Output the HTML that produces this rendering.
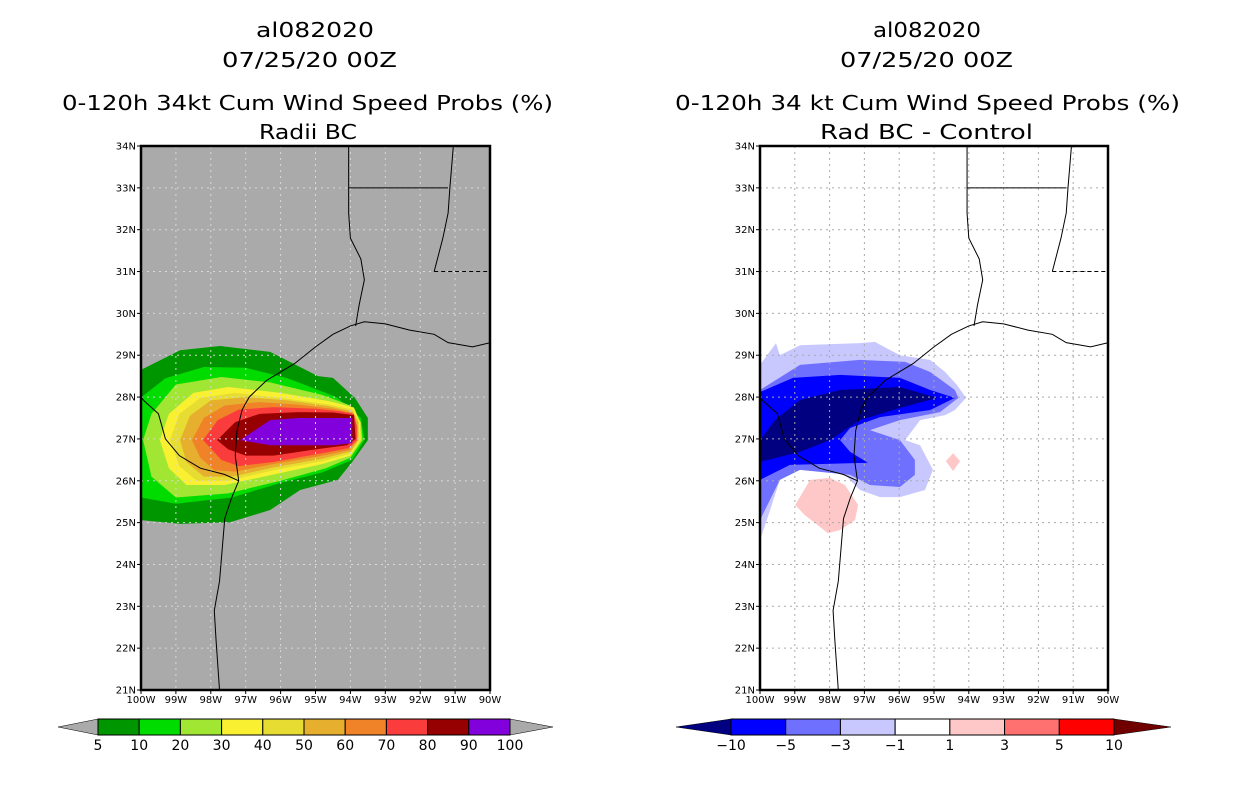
<!DOCTYPE html>
<html><head><meta charset="utf-8"><style>
body{margin:0;background:#fff;width:1236px;height:800px;overflow:hidden}
svg{display:block}
text{font-family:"DejaVu Sans","Liberation Sans",sans-serif}
</style></head><body>
<svg id="svg" width="1236" height="800">
<g font-size="20" fill="#000">
<text x="256" y="37" textLength="118" lengthAdjust="spacingAndGlyphs">al082020</text>
<text x="222" y="67" textLength="175" lengthAdjust="spacingAndGlyphs">07/25/20 00Z</text>
<text x="62" y="110" textLength="491" lengthAdjust="spacingAndGlyphs">0-120h 34kt Cum Wind Speed Probs (%)</text>
<text x="259" y="139" textLength="98" lengthAdjust="spacingAndGlyphs">Radii BC</text>
</g>
<g font-size="20" fill="#000">
<text x="873" y="37" textLength="108" lengthAdjust="spacingAndGlyphs">al082020</text>
<text x="840" y="67" textLength="173" lengthAdjust="spacingAndGlyphs">07/25/20 00Z</text>
<text x="675" y="110" textLength="505" lengthAdjust="spacingAndGlyphs">0-120h 34 kt Cum Wind Speed Probs (%)</text>
<text x="820" y="139" textLength="213" lengthAdjust="spacingAndGlyphs">Rad BC - Control</text>
</g>
<g id="left"></g>
<g id="right"></g>
<g id="cbl"></g>
<g id="cbr"></g>
</svg>
<script>
const lonTicks=[100,99,98,97,96,95,94,93,92,91,90];
const latTicks=[21,22,23,24,25,26,27,28,29,30,31,32,33,34];
// left probability contour levels (lonW, lat)
const leftLevels=['5','10','20','30','40','50','60','70','80','90'];
const leftColors=['#009600','#00dc00','#a0e632','#faf032','#e6dc32','#e6af2d','#f08228','#fa3c3c','#960000','#8200dc'];
const leftPolys=[
[[100,28.65],[98.88,29.12],[97.74,29.22],[96.3,29.08],[94.93,28.5],[94.5,28.46],[93.87,27.98],[93.5,27.5],[93.5,26.97],[93.95,26.45],[94.36,26.02],[95.44,25.78],[96.3,25.3],[97.45,25.01],[98.88,24.97],[100,25.06]],
[[100,27.99],[99.3,28.45],[98.2,28.72],[97.0,28.7],[95.8,28.45],[94.4,28.0],[93.7,27.5],[93.6,26.97],[93.95,26.5],[94.8,26.2],[96.0,25.95],[97.4,25.6],[99,25.45],[100,25.6]],
[[99.94,26.97],[99.7,27.6],[99.0,28.3],[97.7,28.48],[96.3,28.35],[94.8,28.05],[94.0,27.8],[93.7,27.4],[93.65,26.97],[94.0,26.55],[94.7,26.3],[96.0,26.0],[97.5,25.7],[99.0,25.6],[99.7,26.1]],
[[99.46,26.97],[99.2,27.6],[98.5,28.1],[97.5,28.24],[96.0,28.1],[94.6,27.9],[93.9,27.75],[93.72,27.4],[93.7,26.97],[94.0,26.6],[94.8,26.4],[96.2,26.15],[97.6,25.9],[98.7,25.9],[99.2,26.3]],
[[99.17,26.97],[98.9,27.6],[98.3,27.98],[97.3,28.1],[96.0,27.98],[94.6,27.82],[93.93,27.7],[93.75,27.4],[93.74,26.97],[94.0,26.65],[94.8,26.47],[96.2,26.25],[97.5,26.0],[98.4,26.0],[98.9,26.35]],
[[98.88,26.97],[98.6,27.55],[98.0,27.92],[97.0,28.0],[95.8,27.92],[94.6,27.78],[93.95,27.66],[93.78,27.4],[93.77,26.97],[94.0,26.7],[94.8,26.53],[96.2,26.32],[97.4,26.1],[98.2,26.1],[98.7,26.45]],
[[98.54,26.97],[98.2,27.5],[97.6,27.8],[96.6,27.88],[95.5,27.82],[94.5,27.72],[93.95,27.62],[93.8,27.3],[93.8,26.97],[94.05,26.73],[94.8,26.6],[96.2,26.4],[97.3,26.22],[97.9,26.25],[98.3,26.55]],
[[98.22,26.97],[97.8,27.45],[97.2,27.7],[96.2,27.76],[95.0,27.72],[94.3,27.66],[93.9,27.6],[93.82,27.3],[93.82,26.97],[94.05,26.78],[94.8,26.66],[96.2,26.45],[97.2,26.35],[97.7,26.5]],
[[97.82,26.97],[97.3,27.4],[96.6,27.6],[95.5,27.64],[94.5,27.63],[93.9,27.57],[93.85,27.0],[94.1,26.85],[95.0,26.75],[96.2,26.6],[97.0,26.6],[97.5,26.75]],
[[97.16,26.97],[96.3,27.45],[95.5,27.5],[93.95,27.5],[93.95,26.9],[94.5,26.85],[96.3,26.85]]];
// right difference contour levels
const rightLevels=['-1','-3','-5','-10','1','1b'];
const rightColors=['#c8c8ff','#7070ff','#0000ff','#000080','#ffc8c8','#ffc8c8'];
const rightPolys=[
[[100,28.77],[99.54,29.29],[99.43,29.0],[98.85,29.24],[97.13,29.29],[96.7,29.32],[95.98,29.0],[95.11,28.89],[94.68,28.6],[94.34,28.29],[94.08,27.98],[94.4,27.69],[94.68,27.57],[95.4,27.45],[95.83,26.97],[95.4,26.85],[95.03,26.26],[95.26,25.78],[95.98,25.61],[96.55,25.61],[97.13,25.78],[97.7,26.26],[98.85,26.38],[99.43,26.02],[99.71,25.3],[100,24.58]],
[[100,28.17],[98.85,28.77],[97.13,28.89],[95.83,28.84],[95.11,28.6],[94.4,28.17],[94.3,27.98],[94.83,27.64],[95.98,27.45],[96.84,27.21],[95.98,26.97],[95.55,26.5],[95.55,26.14],[95.98,25.85],[96.84,25.9],[97.41,26.14],[98.85,26.26],[99.43,26.02],[100,25.06]],
[[100,28.12],[99.05,28.46],[97.7,28.53],[95.98,28.46],[95.11,28.17],[94.4,27.98],[95.11,27.69],[96.55,27.52],[97.41,27.26],[97.7,26.97],[97.41,26.69],[96.9,26.43],[99.14,26.38],[100,26.02]],
[[100,26.97],[99.57,27.45],[98.85,27.93],[97.7,28.17],[95.98,28.24],[94.91,27.98],[95.98,27.74],[97.13,27.45],[97.99,26.97],[98.85,26.69],[100,26.45]],
[[98.99,25.42],[98.56,26.02],[97.99,26.07],[97.56,25.9],[97.18,25.42],[97.27,25.06],[97.7,24.82],[98.05,24.75],[98.71,25.18]],
[[94.45,26.66],[94.25,26.47],[94.45,26.23],[94.66,26.47]]];
// coastline & borders (lonW, lat)
const coast=[[97.75,21],[97.8,21.6],[97.85,22.2],[97.9,22.9],[97.75,23.6],[97.7,24.1],[97.6,25.1],[97.4,25.6],[97.2,26.0],[97.3,26.6],[97.25,27.2],[97.1,27.7],[96.9,28.0],[96.4,28.4],[95.6,28.8],[95.0,29.2],[94.5,29.5],[94.0,29.7],[93.6,29.8],[93.0,29.75],[92.3,29.6],[91.6,29.5],[91.2,29.3],[90.5,29.2],[90,29.3]];
const rioGrande=[[97.2,26.0],[97.6,26.15],[98.3,26.3],[98.9,26.6],[99.3,27.0],[99.5,27.6],[99.9,27.9],[100,28.0]];
const txla=[[93.85,29.7],[93.75,30.2],[93.6,30.8],[93.7,31.3],[94.0,31.8],[94.05,32.4],[94.05,33.0],[94.05,34]];
const arNorth=[[94.05,33.0],[91.2,33.0]];
const missRiver=[[91.05,34],[91.1,33.5],[91.15,33.0],[91.2,32.4],[91.35,31.8],[91.6,31.0]];
const laMs=[[91.6,31.0],[90,31.0]];

const NS='http://www.w3.org/2000/svg';
function mk(parent,tag,attrs){const e=document.createElementNS(NS,tag);for(const k in attrs)e.setAttribute(k,attrs[k]);parent.appendChild(e);return e;}
function drawMap(g,x0,pxPerLon,bg,gridCol,levels,colors,polys,prefix){
  const y0=146,y1=690,pxLat=(y1-y0)/13,x1=x0+pxPerLon*10;
  const X=lw=>x0+(100-lw)*pxPerLon, Y=la=>y1-(la-21)*pxLat;
  const cp=mk(g,'clipPath',{id:prefix+'clip'});mk(cp,'rect',{x:x0,y:y0,width:x1-x0,height:y1-y0});
  const bgR=mk(g,'rect',{x:x0,y:y0,width:x1-x0,height:y1-y0,fill:bg});
  
  
  const inner=mk(g,'g',{'clip-path':'url(#'+prefix+'clip)'});
  polys.forEach((p,i)=>{
    const el=mk(inner,'polygon',{points:p.map(q=>X(q[0])+','+Y(q[1])).join(' '),fill:colors[i]});
    
    
  });
  lonTicks.forEach(l=>{const el=mk(inner,'line',{x1:X(l),x2:X(l),y1:y0,y2:y1,stroke:gridCol,'stroke-dasharray':'2,4','stroke-width':1});
    
    });
  latTicks.forEach(l=>{const el=mk(inner,'line',{x1:x0,x2:x1,y1:Y(l),y2:Y(l),stroke:gridCol,'stroke-dasharray':'2,4','stroke-width':1});
    
    });
  [[coast,''],[rioGrande,''],[txla,''],[arNorth,''],[missRiver,''],[laMs,'4,3']].forEach((c,i)=>{
    const el=mk(inner,'polyline',{points:c[0].map(q=>X(q[0])+','+Y(q[1])).join(' '),fill:'none',stroke:'#000','stroke-width':1,'stroke-dasharray':c[1]||'none'});
    
    
  });
  const fr=mk(g,'rect',{x:x0,y:y0,width:x1-x0,height:y1-y0,fill:'none',stroke:'#000','stroke-width':2.5});
  
  
  lonTicks.forEach(l=>{mk(g,'line',{x1:X(l),x2:X(l),y1:y1,y2:y1+4,stroke:'#000'});
    const t=mk(g,'text',{x:X(l),y:y1+13,'font-size':10,'text-anchor':'middle'});t.textContent=l+'W';
    
    });
  latTicks.forEach(l=>{mk(g,'line',{x1:x0-4,x2:x0,y1:Y(l),y2:Y(l),stroke:'#000'});
    const t=mk(g,'text',{x:x0-5,y:Y(l)+3.5,'font-size':10,'text-anchor':'end'});t.textContent=l+'N';
    
    });
}
drawMap(document.getElementById('left'),141,34.9,'#aaaaaa','#d8d8d8',leftLevels,leftColors,leftPolys,'left-');
drawMap(document.getElementById('right'),760,34.8,'#ffffff','#aaaaaa',rightLevels,rightColors,rightPolys,'right-');

// colorbars
const cbLeftLabels=['5','10','20','30','40','50','60','70','80','90','100'];
const cbRightLabels=['\u221210','\u22125','\u22123','\u22121','1','3','5','10'];
const cbRightColors=['#0000ff','#7070ff','#c8c8ff','#ffffff','#ffc8c8','#ff7070','#ff0000'];
function colorbar(g,xa,xb,tl,tr,cols,lcol,rcol,labels,prefix){
  const y0=719,y1=735,w=(xb-xa)/cols.length;
  const a=mk(g,'polygon',{points:`${tl},${(y0+y1)/2} ${xa},${y0} ${xa},${y1}`,fill:lcol,stroke:'#000','stroke-width':0.5});
  
  
  const b=mk(g,'polygon',{points:`${tr},${(y0+y1)/2} ${xb},${y0} ${xb},${y1}`,fill:rcol,stroke:'#000','stroke-width':0.5});
  
  
  cols.forEach((c,i)=>{const r=mk(g,'rect',{x:xa+i*w,y:y0,width:w,height:y1-y0,fill:c,stroke:'#000','stroke-width':1});
    
    });
  labels.forEach((l,i)=>{const t=mk(g,'text',{x:xa+i*w,y:750,'font-size':14,'text-anchor':'middle'});t.textContent=l;
    
    });
}
colorbar(document.getElementById('cbl'),98,510,58,553,leftColors,'#aaaaaa','#aaaaaa',cbLeftLabels,'left-');
colorbar(document.getElementById('cbr'),731,1114,676,1171,cbRightColors,'#000080','#700000',cbRightLabels,'right-');
</script>
</body></html>
